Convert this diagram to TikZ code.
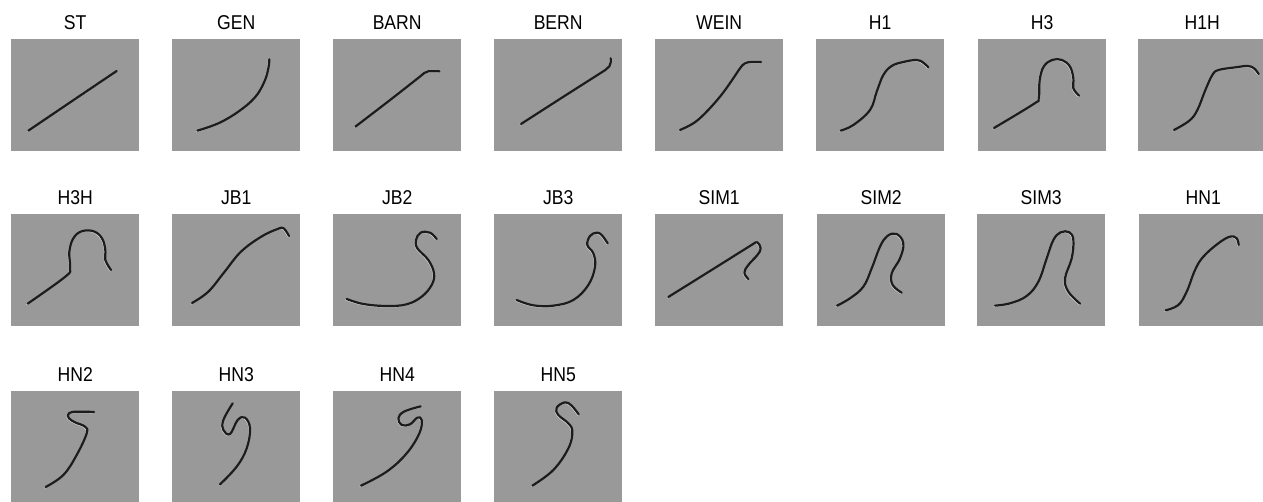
\documentclass[tikz,border=0pt]{standalone}
\usepackage{fontspec}
\usepackage{tikz}
\usetikzlibrary{positioning}
\newfontfamily\labelfont[FakeStretch=.88]{Liberation Sans}
\definecolor{panelgray}{HTML}{999999}
\definecolor{wireink}{HTML}{1C1C1C}

\begin{document}
\begin{tikzpicture}[x=1pt,y=-1pt,line cap=round,line join=round]
  \clip (0,0) rectangle (1263,501);
  \tikzset{panelbox/.style={fill=panelgray,anchor=north west,inner sep=0,
      minimum width=128pt,minimum height=111.7pt},
    namelabel/.style={font=\labelfont\fontsize{20}{22}\selectfont,inner sep=0,text=black},
    wireglow/.style={white!65!panelgray,line width=1.2pt,shift={(-.8pt,-.8pt)}},
    wireline/.style={wireink,line width=2.2pt}}
  % #1 name, #2/#3 corner of the panel, #4 points of the bent wire
  \def\wire#1#2#3#4{
    \node[panelbox] (panel-#1) at (#2,#3) {};
    \node[namelabel,above=9.5pt of panel-#1] (name-#1) {#1};
    \begin{scope}[shift={(#2,#3)},x=.3333pt,y=-.3333pt]
      \draw[wireglow] plot[smooth,tension=.65] coordinates {#4};
      \draw[wireline] plot[smooth,tension=.65] coordinates {#4};
    \end{scope}
  }
  \wire{ST}{11}{39}{(52,275) (185,185) (317,96)}
  \wire{GEN}{172}{39}{(76,275) (139,253) (199,218) (249,175) (277,128) (289,88) (292,61)}
  \wire{BARN}{333}{39}{(67,263) (170,184) (258,115) (274,102) (286,97) (300,97) (319,97)}
  \wire{BERN}{494}{39}{(81,255) (207,174) (320,102) (335,92) (346,82) (350,70) (350,58)}
  \wire{WEIN}{655}{39}{(75,273) (115,253) (150,223) (195,173) (230,125) (255,88) (270,73) (290,69) (318,69)}
  \wire{H1}{816}{39}{(74,275) (112,258) (162,213) (182,158) (202,108) (227,81) (262,69) (302,63) (322,71) (337,85)}
  \wire{H3}{978}{39}{(48,267) (167,195) (182,178) (185,123) (197,83) (222,63) (252,63) (276,83) (286,118) (286,148) (303,170)}
  \wire{H1H}{1138}{39}{(108,273) (154,245) (178,213) (202,153) (223,108) (242,93) (293,85) (329,81) (348,88) (362,105)}

  \wire{H3H}{11}{214}{(50,269) (163,188) (177,163) (175,113) (187,73) (212,52) (248,52) (273,73) (283,108) (283,138) (300,168)}
  \wire{JB1}{172}{214}{(60,267) (109,233) (158,173) (207,113) (268,68) (317,45) (335,43) (351,66)}
  \wire{JB2}{333}{214}{(41,255) (91,270) (161,276) (221,271) (266,248) (296,213) (303,178) (286,138) (253,103) (249,78) (263,56) (291,56) (311,75)}
  \wire{JB3}{494}{214}{(68,258) (118,274) (178,275) (238,258) (283,213) (303,158) (298,118) (280,93) (288,66) (308,56) (323,63) (341,88)}
  \wire{SIM1}{655}{214}{(40,249) (165,171) (280,99) (296,89) (307,85) (317,103) (307,123) (280,153) (268,176) (280,195)}
  \wire{SIM2}{817}{214}{(60,275) (99,253) (139,218) (164,163) (189,98) (211,66) (239,60) (259,88) (249,133) (224,178) (227,213) (254,236)}
  \wire{SIM3}{977}{214}{(54,275) (99,268) (149,246) (184,203) (209,133) (229,78) (251,55) (277,55) (289,78) (284,133) (264,193) (274,233) (309,269)}
  \wire{HN1}{1139}{214}{(80,289) (118,273) (143,233) (168,168) (193,128) (238,88) (273,68) (293,73) (299,93)}

  \wire{HN2}{11}{391}{(104,288) (157,252) (197,192) (227,127) (222,107) (192,94) (174,82) (172,70) (184,63) (217,62) (249,63)}
  \wire{HN3}{172}{391}{(144,280) (194,227) (224,172) (234,112) (219,80) (197,87) (174,129) (154,117) (154,87) (182,37)}
  \wire{HN4}{333}{391}{(84,284) (161,242) (221,187) (259,127) (266,87) (253,80) (231,100) (206,102) (196,82) (213,62) (263,46)}
  \wire{HN5}{494}{391}{(115,284) (178,237) (223,172) (235,122) (223,97) (193,72) (188,50) (213,34) (233,44) (254,70)}
\end{tikzpicture}
\end{document}
